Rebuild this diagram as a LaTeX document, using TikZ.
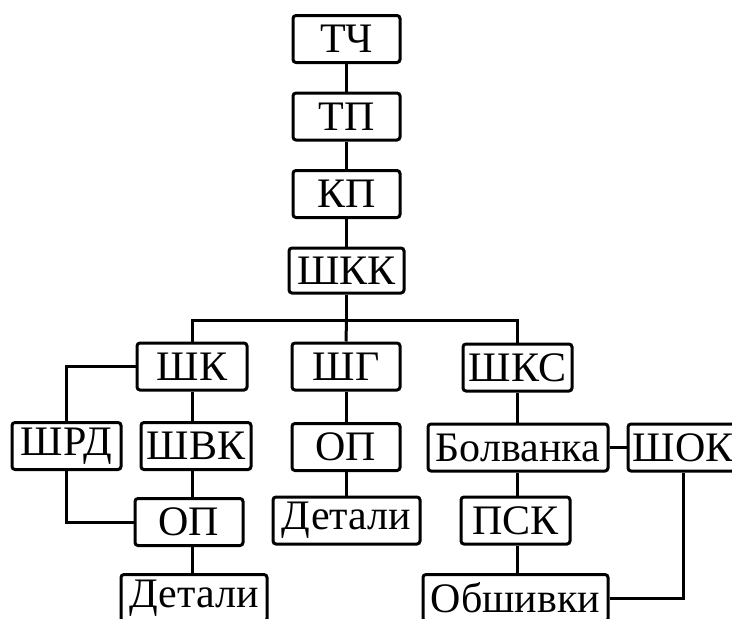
\documentclass[tikz,border=0pt]{standalone}
\usepackage{fontspec}
\setmainfont{Liberation Serif}
\usetikzlibrary{positioning}

\begin{document}
\begin{tikzpicture}[
    x=1pt, y=-1pt,
    line width=3pt,
    box/.style={
        draw, rounded corners=3pt,
        minimum height=47pt,
        inner xsep=2pt, inner ysep=0pt,
        font=\fontsize{42}{42}\selectfont
    }
]
\clip (0,0) rectangle (732,619);

% Trunk.
\node[box, minimum width=107pt] (tch)  at (346.5,39)  {ТЧ};
\node[box, minimum width=107pt] (tp)   at (346.5,116.5) {ТП};
\node[box, minimum width=107pt] (kp)   at (346.5,194) {КП};
\node[box, minimum width=115pt, minimum height=45pt] (shkk) at (346.5,270.5) {ШКК};
\coordinate (bus) at (346.5,320);

\draw (tch) -- (tp);
\draw (tp) -- (kp);
\draw (kp) -- (shkk);
\draw (shkk.south) -- (bus);

% Second row.
\node[box, minimum width=110pt] (shk)  at (192,366.5) {ШК};
\node[box, minimum width=108pt] (shg)  at (346,366.5) {ШГ};
\node[box, minimum width=109pt] (shks) at (517.5,367.5) {ШКС};

\draw (shk.north) |- (bus) -| (shks.north);
\draw (bus) -- (shg.north);

% Left branch.
\node[box, minimum width=109pt] (shrd) at (66.5,446) {ШРД};
\node[box, minimum width=110pt] (shvk) at (196,446) {ШВК};
\node[box, minimum width=108pt] (opl)  at (189,522) {ОП};
\node[box, minimum width=146pt] (detl) at (194,598) {Детали};

\draw (shk.south) -- (shk.south |- shvk.north);
\draw (shk.south |- shvk.south) -- (shk.south |- opl.north);
\draw (shk.south |- opl.south) -- (shk.south |- detl.north);
\draw (shk.west) -| (shrd.north);
\draw (shrd.south) |- (opl.west);

% Middle branch.
\node[box, minimum width=108pt] (opm)  at (346,447) {ОП};
\node[box, minimum width=147pt] (detm) at (346.5,520.5) {Детали};

\draw (shg) -- (opm);
\draw (opm.south) -- (opm.south |- detm.north);

% Right branch.
\node[box, minimum width=180pt] (bolv) at (518,447.5) {Болванка};
\node[box, minimum width=110pt] (shok) at (683,447.5) {ШОК};
\node[box, minimum width=109pt] (psk)  at (515.5,520.5) {ПСК};
\node[box, minimum width=185pt] (obsh) at (515.5,598) {Обшивки};

\draw (shks.south) -- (shks.south |- bolv.north);
\draw (bolv) -- (shok);
\draw (shks.south |- bolv.south) -- (shks.south |- psk.north);
\draw (shks.south |- psk.south) -- (shks.south |- obsh.north);
\draw (shok.south) |- (obsh.east);

\end{tikzpicture}
\end{document}
